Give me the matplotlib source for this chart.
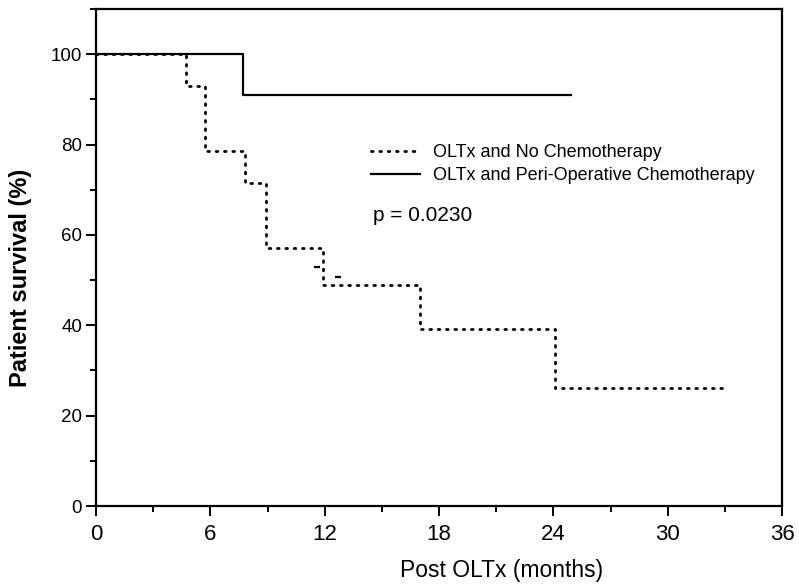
"""Kaplan-Meier style survival curves, OLTx with / without chemotherapy."""

import matplotlib

matplotlib.use("Agg")
import matplotlib.pyplot as plt
from matplotlib.lines import Line2D
from matplotlib.ticker import MultipleLocator

# step curves: time of each level start (months) and survival level (%)
no_chemo_t = [0, 4.7, 5.7, 7.8, 8.9, 11.9, 17.0, 24.1, 33.1]
no_chemo_s = [100, 92.9, 78.6, 71.4, 57.1, 49.0, 39.2, 26.1, 26.1]
chemo_t = [0, 7.7, 24.9]
chemo_s = [100, 90.9, 90.9]

# stray censor marks on the no-chemo curve
censor_t = [11.6, 12.7]
censor_s = [53.0, 50.6]

xticks = [0, 6, 12, 18, 24, 30, 36]
yticks = [0, 20, 40, 60, 80, 100]

plt.rcParams["font.family"] = ["Liberation Sans", "DejaVu Sans"]

fig = plt.figure(figsize=(7.99, 5.85), dpi=100)
ax = fig.add_axes([0.1202, 0.135, 0.8586, 0.8496])

dots = (0, (0.6, 2.4))
ax.step(no_chemo_t, no_chemo_s, where="post", color="black", lw=2.0,
        linestyle=dots, dash_capstyle="round")
ax.step(chemo_t, chemo_s, where="post", color="black", lw=1.6)
ax.plot(censor_t, censor_s, linestyle="none", marker="_", color="black",
        markersize=5, mew=1.6)

ax.set_xlim(0, 36)
ax.set_ylim(0, 110)
ax.xaxis.set_minor_locator(MultipleLocator(3))
ax.yaxis.set_minor_locator(MultipleLocator(10))
ax.set_xticks(xticks)
ax.set_yticks(yticks)

for s in ax.spines.values():
    s.set_linewidth(1.6)
ax.tick_params(which="both", direction="out", width=1.4, color="black")
ax.tick_params(which="major", length=7)
ax.tick_params(which="minor", length=4)
ax.tick_params(axis="y", labelsize=13.5, pad=3)
ax.tick_params(axis="x", labelsize=16, pad=6)

# axis titles sit off-centre in the original
fig.text(502 / 799, 1 - 571 / 585, "Post OLTx (months)", fontsize=16.5,
         ha="center", va="center")
fig.text(21 / 799, 1 - 278 / 585, "Patient survival (%)", fontsize=17,
         fontweight="bold", rotation=90, ha="center", va="center")

handles = [
    Line2D([], [], color="black", lw=2.0, linestyle=dots, dash_capstyle="round"),
    Line2D([], [], color="black", lw=1.6),
]
labels = ["OLTx and No Chemotherapy", "OLTx and Peri-Operative Chemotherapy"]
ax.legend(handles, labels, loc="upper left", bbox_to_anchor=(0.391, 0.742),
          frameon=False, fontsize=13, handlelength=2.7, handletextpad=0.72,
          labelspacing=0.33, borderaxespad=0)
ax.text(0.404, 0.584, "p = 0.0230", transform=ax.transAxes, fontsize=15,
        ha="left", va="center")

fig.savefig("out.png", dpi=100)
